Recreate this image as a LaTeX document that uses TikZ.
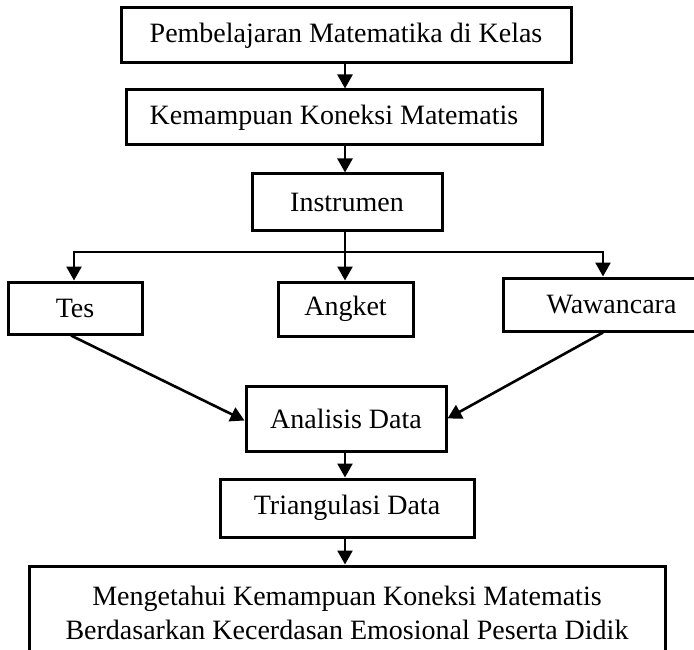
\documentclass[tikz,border=0pt]{standalone}
\usepackage{fontspec}
\setmainfont{Liberation Serif}
\usetikzlibrary{arrows.meta}
\begin{document}
\begin{tikzpicture}[x=1pt,y=-1pt,
  box/.style={draw,line width=3pt,inner sep=0pt,font=\fontsize{28}{34}\selectfont},
  arr/.style={line width=2.6pt,-{Triangle[width=15pt,length=14pt]}},
  ln/.style={line width=2.6pt}]
\useasboundingbox (0,0) rectangle (694,650);
\clip (0,0) rectangle (694,650);
\node[box,minimum width=450pt,minimum height=55pt] (b1) at (346,35.5) {Pembelajaran Matematika di Kelas};
\node[box,minimum width=416pt,minimum height=55pt] (b2) at (334,117.5) {Kemampuan Koneksi Matematis};
\node[box,minimum width=190pt,minimum height=56pt] (b3) at (347,202) {Instrumen};
\node[box,minimum width=134pt,minimum height=52pt] (tes) at (75,308) {Tes};
\node[box,minimum width=135pt,minimum height=54pt] (ang) at (345.5,309) {Angket};
\node[box,minimum width=217pt,minimum height=53pt] (waw) at (611.5,304.5) {Wawancara\hspace{21pt}};
\node[box,minimum width=200pt,minimum height=65pt] (ana) at (346,418.5) {Analisis Data};
\node[box,minimum width=254pt,minimum height=58pt] (tri) at (347,508) {Triangulasi Data};
\node[box,minimum width=636pt,minimum height=94pt,align=center] (fin) at (347,613) {Mengetahui Kemampuan Koneksi Matematis\\Berdasarkan Kecerdasan Emosional Peserta Didik};
\coordinate (ax) at (345,0);
\coordinate (br) at (345,252);
\coordinate (bl) at (74,252);
\coordinate (brr) at (603,252);
\draw[arr] (b1.south -| ax) -- (b2.north -| ax);
\draw[arr] (b2.south -| ax) -- (b3.north -| ax);
\draw[arr] (b3.south -| ax) -- (ang.north -| ax);
\draw[arr] (br) -- (bl) -- (tes.north -| bl);
\draw[arr] (br) -- (brr) -- (waw.north -| brr);
\draw[arr] ([xshift=-4pt]tes.south) -- ([yshift=-2pt]ana.west);
\draw[arr] (waw.south -| brr) -- (ana.east);
\draw[arr] (ana.south -| ax) -- (tri.north -| ax);
\draw[arr] (tri.south -| ax) -- (fin.north -| ax);
\end{tikzpicture}
\end{document}
